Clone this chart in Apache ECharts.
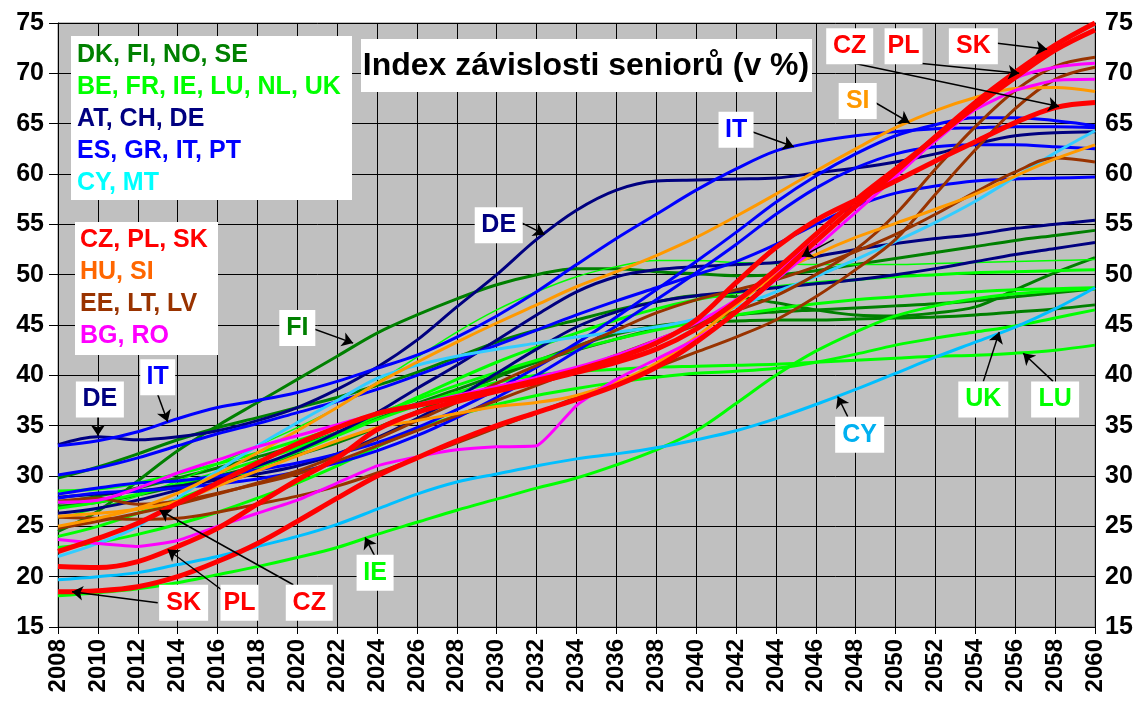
<!DOCTYPE html>
<html>
<head>
<meta charset="utf-8">
<script src="https://cdn.jsdelivr.net/npm/echarts@6/dist/echarts.min.js"></script>
<style>
  html, body { margin: 0; padding: 0; background: #fff; }
  #main { width: 1145px; height: 702px; }
</style>
</head>
<body>
<div id="main"></div>
<script>
// years, every second year 2008..2060
const years = [2008, 2010, 2012, 2014, 2016, 2018, 2020, 2022, 2024, 2026, 2028, 2030, 2032, 2034,
  2036, 2038, 2040, 2042, 2044, 2046, 2048, 2050, 2052, 2054, 2056, 2058, 2060]

// DK, FI, NO, SE
const dk = [29.8, 30.9, 32.2, 33.6, 34.8, 35.8, 36.8, 37.8, 39.0, 40.3, 41.8, 43.3, 44.5, 45.5, 46.5, 47.3, 47.9, 47.8, 47.2, 46.5, 46.0, 45.9, 46.2, 46.8, 48.5, 50.2, 51.7]
const fi = [24.5, 26.5, 29.5, 32.5, 35.0, 37.3, 39.6, 41.9, 44.2, 46.0, 47.6, 49.0, 50.0, 50.6, 50.6, 50.3, 50.1, 49.9, 50.0, 50.4, 51.0, 51.6, 52.2, 52.8, 53.4, 53.9, 54.4]
const no = [27.3, 28.0, 28.8, 29.8, 30.8, 31.9, 33.0, 34.3, 35.7, 37.2, 38.6, 40.0, 41.3, 42.5, 43.6, 44.6, 45.4, 46.0, 46.3, 46.5, 46.7, 46.9, 47.1, 47.4, 47.8, 48.2, 48.6]
const se = [27.0, 27.4, 28.1, 29.0, 30.0, 31.0, 32.1, 33.3, 34.8, 36.4, 38.1, 39.8, 41.4, 42.9, 44.1, 44.9, 45.3, 45.4, 45.5, 45.5, 45.6, 45.7, 45.8, 46.0, 46.3, 46.6, 47.0]
// BE, FR, IE, LU, NL, UK
const be = [26.8, 27.4, 28.2, 29.2, 30.3, 31.5, 32.8, 34.3, 36.0, 37.8, 39.6, 41.3, 42.8, 44.2, 45.5, 46.6, 47.5, 48.2, 48.8, 49.2, 49.5, 49.8, 50.0, 50.2, 50.3, 50.4, 50.5]
const fr = [25.8, 26.8, 28.0, 29.5, 31.2, 33.0, 34.8, 36.8, 39.3, 41.8, 44.3, 46.5, 48.3, 49.8, 50.8, 51.4, 51.4, 51.2, 51.1, 51.0, 51.0, 51.0, 51.1, 51.2, 51.3, 51.4, 51.5]
const ie = [18.1, 18.4, 18.8, 19.4, 20.2, 21.0, 21.9, 22.9, 24.2, 25.4, 26.6, 27.7, 28.8, 29.8, 31.1, 32.6, 34.5, 37.2, 40.0, 42.4, 44.3, 45.9, 46.9, 47.6, 48.1, 48.4, 48.6]
const lu = [24.0, 25.0, 26.3, 27.7, 29.2, 30.8, 32.4, 34.0, 35.6, 37.0, 38.3, 39.3, 40.0, 40.4, 40.6, 40.8, 40.9, 41.0, 41.1, 41.3, 41.5, 41.7, 41.9, 42.0, 42.2, 42.5, 43.0]
const nl = [28.5, 28.7, 29.3, 30.2, 31.2, 32.3, 33.5, 34.8, 36.2, 37.6, 39.0, 40.3, 41.5, 42.6, 43.6, 44.5, 45.3, 46.0, 46.6, 47.1, 47.5, 47.8, 48.1, 48.3, 48.5, 48.6, 48.7]
const uk = [22.9, 23.4, 24.2, 25.2, 26.4, 27.8, 29.3, 31.0, 32.9, 34.6, 36.0, 37.1, 38.0, 38.7, 39.3, 39.8, 40.2, 40.4, 40.7, 41.3, 42.1, 43.0, 43.7, 44.3, 44.9, 45.7, 46.5]
// AT, CH, DE
const at = [26.3, 26.8, 27.6, 28.6, 29.8, 31.0, 32.5, 34.3, 36.3, 38.7, 41.0, 43.5, 46.0, 48.3, 49.8, 50.5, 50.8, 51.0, 51.2, 51.8, 52.5, 53.1, 53.6, 54.0, 54.6, 55.0, 55.4]
const ch = [27.9, 28.2, 28.5, 29.0, 29.6, 30.2, 31.0, 32.2, 33.8, 35.7, 37.8, 40.2, 42.6, 44.8, 46.3, 47.3, 47.9, 48.3, 48.7, 49.1, 49.5, 50.0, 50.6, 51.3, 52.0, 52.6, 53.2]
const de = [33.1, 33.9, 33.6, 33.9, 34.5, 35.5, 36.8, 38.6, 40.8, 43.5, 46.8, 50.0, 53.5, 56.4, 58.4, 59.3, 59.4, 59.5, 59.6, 60.1, 60.6, 61.2, 62.0, 63.0, 63.8, 64.1, 64.2]
// ES, GR, IT, PT
const es = [27.8, 28.3, 28.5, 28.8, 29.2, 29.7, 30.4, 31.3, 32.5, 34.0, 35.8, 37.8, 40.0, 42.4, 44.9, 47.5, 50.2, 53.0, 56.0, 58.6, 60.6, 62.0, 62.7, 62.9, 62.9, 62.7, 62.5]
const gr = [28.2, 28.8, 29.3, 29.5, 30.0, 30.6, 31.3, 32.2, 33.3, 34.8, 36.6, 38.6, 40.8, 43.2, 45.8, 48.5, 51.3, 54.2, 57.2, 59.8, 62.0, 63.8, 64.9, 65.6, 65.6, 65.3, 64.8]
const it = [33.0, 33.5, 34.4, 35.7, 36.8, 37.5, 38.3, 39.4, 40.7, 42.0, 43.8, 45.9, 48.3, 51.0, 53.6, 56.0, 58.4, 60.5, 62.3, 63.2, 63.8, 64.2, 64.5, 64.6, 64.7, 64.7, 64.6]
const pt = [30.1, 30.8, 31.8, 33.0, 34.2, 35.2, 36.3, 37.4, 38.6, 40.0, 41.5, 43.0, 44.5, 46.0, 47.4, 48.7, 50.0, 51.3, 53.0, 55.0, 56.8, 58.1, 58.8, 59.3, 59.5, 59.6, 59.7]
// CY, MT
const cy = [19.7, 20.0, 20.4, 21.2, 22.0, 23.0, 24.0, 25.2, 26.7, 28.2, 29.4, 30.2, 31.0, 31.7, 32.2, 32.8, 33.6, 34.5, 35.7, 37.1, 38.6, 40.2, 41.8, 43.3, 44.8, 46.6, 48.7]
const mt = [22.0, 23.3, 25.0, 27.8, 30.5, 33.0, 35.3, 37.5, 39.7, 41.0, 41.9, 42.6, 43.2, 43.8, 44.3, 44.8, 45.6, 46.8, 48.3, 49.8, 51.5, 53.3, 55.2, 57.3, 59.7, 62.1, 64.3]
// EE, LT, LV
const ee = [27.5, 27.8, 27.2, 27.5, 28.3, 29.2, 30.2, 31.5, 33.0, 34.5, 36.0, 37.5, 39.0, 40.5, 42.0, 43.5, 45.0, 46.4, 47.9, 50.0, 52.5, 56.0, 60.5, 64.7, 68.3, 70.7, 71.6]
const lt = [24.8, 25.5, 26.3, 27.2, 28.2, 29.3, 30.5, 32.0, 33.7, 35.5, 37.3, 39.2, 41.0, 42.8, 44.5, 46.2, 47.5, 48.5, 49.5, 50.8, 52.3, 54.0, 56.0, 58.2, 60.2, 61.6, 61.2]
const lv = [25.9, 25.8, 25.7, 25.8, 26.4, 27.2, 28.0, 29.0, 30.3, 31.8, 33.3, 34.8, 36.3, 37.8, 39.3, 40.8, 42.3, 43.8, 45.5, 47.8, 50.5, 53.5, 58.0, 62.4, 66.5, 69.4, 70.6]
// HU, SI
const hu = [26.0, 26.3, 26.7, 27.5, 29.0, 30.5, 32.0, 33.5, 34.8, 35.5, 36.2, 36.9, 37.3, 38.0, 39.3, 41.2, 43.8, 47.0, 50.0, 52.0, 53.7, 55.1, 56.5, 58.0, 59.8, 61.5, 62.9]
const si = [25.0, 25.8, 26.8, 28.3, 30.2, 32.3, 34.5, 36.8, 39.2, 41.3, 43.3, 45.2, 47.0, 48.8, 50.3, 51.9, 53.7, 55.8, 58.0, 60.3, 62.5, 64.6, 66.3, 67.6, 68.5, 68.6, 68.2]
// BG, RO
const bg = [23.7, 23.3, 23.0, 23.6, 25.0, 26.3, 27.6, 29.3, 31.0, 31.9, 32.6, 32.9, 33.0, 37.0, 39.6, 41.6, 43.6, 46.2, 49.5, 52.7, 56.2, 59.7, 63.4, 66.4, 68.3, 69.3, 69.4]
const ro = [27.4, 27.6, 28.8, 30.3, 31.6, 32.9, 34.0, 35.1, 36.2, 37.1, 38.0, 38.9, 39.8, 40.8, 42.0, 43.5, 45.2, 47.5, 50.3, 53.5, 56.7, 60.0, 63.3, 66.5, 69.5, 70.6, 71.0]
// CZ, PL, SK
const cz = [22.5, 23.8, 25.3, 27.3, 29.3, 31.3, 33.2, 34.8, 36.2, 37.0, 37.8, 38.6, 39.5, 40.5, 41.7, 43.2, 45.5, 49.2, 52.7, 55.4, 57.4, 59.3, 61.3, 63.2, 65.1, 66.6, 67.1]
const pl = [21.0, 20.9, 21.5, 23.0, 24.8, 27.2, 29.6, 31.8, 34.6, 36.3, 37.4, 38.4, 39.3, 40.3, 41.3, 42.6, 44.6, 47.3, 50.5, 54.0, 57.4, 60.5, 63.6, 66.7, 69.6, 72.3, 74.3]
const sk = [18.5, 18.6, 19.0, 20.0, 21.5, 23.3, 25.5, 27.8, 30.0, 31.8, 33.5, 35.0, 36.3, 37.6, 39.0, 40.8, 43.3, 46.3, 49.7, 53.3, 56.8, 60.2, 63.7, 67.1, 70.1, 72.8, 75.0]

// callout labels: [text, colour, year, value]
const callouts = [
  ['DE', '#000080', 2030.1, 54.9], ['IT', '#0000FF', 2042.0, 64.4], ['FI', '#008000', 2020.0, 44.7],
  ['DE', '#000080', 2010.1, 37.6], ['IT', '#0000FF', 2013.0, 39.8],
  ['SK', '#FF0000', 2014.3, 17.4], ['PL', '#FF0000', 2017.1, 17.4], ['CZ', '#FF0000', 2020.6, 17.4],
  ['IE', '#00FF00', 2023.9, 20.4], ['CY', '#00B0F0', 2048.2, 34.1],
  ['UK', '#00FF00', 2054.4, 37.6], ['LU', '#00FF00', 2058.0, 37.6],
  ['CZ', '#FF0000', 2047.7, 72.7], ['PL', '#FF0000', 2050.4, 72.7], ['SK', '#FF0000', 2053.9, 72.7],
  ['SI', '#FF9900', 2048.1, 67.25]
]
// arrows: [fromYear, fromValue, toYear, toValue]
const arrows = [
  [2031.2, 55.2, 2032.4, 54.0], [2042.8, 64.2, 2044.9, 62.7], [2020.7, 44.7, 2022.8, 43.2],
  [2010.0, 36.8, 2010.0, 34.0], [2013.0, 38.1, 2013.5, 35.4],
  [2013.0, 17.4, 2008.7, 18.5], [2016.2, 18.7, 2013.5, 22.7], [2019.8, 19.2, 2013.1, 26.6],
  [2023.9, 22.0, 2023.4, 23.9], [2047.6, 35.9, 2047.1, 37.9],
  [2054.4, 39.4, 2055.2, 44.3], [2057.9, 39.4, 2056.4, 42.2],
  [2047.9, 71.0, 2058.2, 66.7], [2050.7, 71.1, 2056.2, 70.0], [2055.1, 73.0, 2057.6, 72.4],
  [2048.8, 67.3, 2050.7, 65.1], [2046.9, 53.5, 2045.3, 51.8]
]

const groups = [
  { text: 'DK, FI, NO, SE', color: '#008000' },
  { text: 'BE, FR, IE, LU, NL, UK', color: '#00FF00' },
  { text: 'AT, CH, DE', color: '#000080' },
  { text: 'ES, GR, IT, PT', color: '#0000FF' },
  { text: 'CY, MT', color: '#00FFFF' }
]
const groups2 = [
  { text: 'CZ, PL, SK', color: '#FF0000' },
  { text: 'HU, SI', color: '#FF6600' },
  { text: 'EE, LT, LV', color: '#993300' },
  { text: 'BG, RO', color: '#FF00FF' }
]

const lines = [
  ['DK', dk, '#008000', 3], ['FI', fi, '#008000', 3], ['NO', no, '#008000', 3], ['SE', se, '#008000', 3],
  ['BE', be, '#00FF00', 3], ['FR', fr, '#00FF00', 1.5], ['IE', ie, '#00FF00', 3], ['LU', lu, '#00FF00', 3],
  ['NL', nl, '#00FF00', 3], ['UK', uk, '#00FF00', 3],
  ['AT', at, '#000080', 3], ['CH', ch, '#000080', 3], ['DE', de, '#000080', 3],
  ['ES', es, '#0000FF', 3], ['GR', gr, '#0000FF', 3], ['IT', it, '#0000FF', 3], ['PT', pt, '#0000FF', 3],
  ['CY', cy, '#00BFFF', 3], ['MT', mt, '#33CCFF', 3],
  ['EE', ee, '#993300', 3], ['LT', lt, '#993300', 3], ['LV', lv, '#993300', 3],
  ['HU', hu, '#FF9900', 3], ['SI', si, '#FF9900', 3],
  ['BG', bg, '#FF00FF', 3], ['RO', ro, '#FF00FF', 3],
  ['CZ', cz, '#FF0000', 5], ['PL', pl, '#FF0000', 5], ['SK', sk, '#FF0000', 5]
]

// white box width for each callout text
const boxWidth = { DE: 48, IT: 35, FI: 36, SK: 49, PL: 38, CZ: 47, IE: 37, CY: 49, UK: 50, LU: 48, SI: 38 }

const FONT = '"Liberation Sans", Arial, sans-serif'
const dom = document.getElementById('main')
const myChart = echarts.init(dom)

const series = lines.map(([name, vals, color, width]) => ({
  name: name,
  type: 'line',
  data: years.map((y, i) => [y, vals[i]]),
  // BG has a sharp bend around 2032, keep it less rounded
  smooth: name === 'BG' ? 0.15 : 0.35,
  showSymbol: false,
  symbol: 'none',
  lineStyle: { color: color, width: width },
  itemStyle: { color: color },
  silent: true
}))

series.push({
  name: 'notes',
  type: 'line',
  data: [],
  silent: true,
  markLine: {
    silent: true,
    symbol: ['none', 'arrow'],
    symbolSize: 11,
    label: { show: false },
    lineStyle: { color: '#000', width: 1.5, type: 'solid' },
    data: arrows.map(a => [{ coord: [a[0], a[1]] }, { coord: [a[2], a[3]] }])
  },
  markPoint: {
    silent: true,
    data: callouts.map(c => ({
      coord: [c[2], c[3]],
      symbol: 'rect',
      symbolSize: [boxWidth[c[0]], 36],
      itemStyle: { color: '#fff' },
      label: {
        show: true,
        formatter: c[0],
        color: c[1],
        fontSize: 25,
        fontWeight: 'bold',
        fontFamily: FONT
      }
    }))
  }
})

const legendText = (list, x, y0) => list.map((g, i) => ({
  type: 'text',
  x: x,
  y: y0 + i * 32,
  z: 101,
  style: {
    text: g.text,
    fill: g.color,
    font: 'bold 25px ' + FONT,
    textAlign: 'left',
    textVerticalAlign: 'middle'
  }
}))

const option = {
  animation: false,
  backgroundColor: '#fff',
  grid: {
    left: 58, right: 50, top: 23, bottom: 75,
    show: true,
    backgroundColor: '#C0C0C0',
    borderColor: '#808080',
    borderWidth: 1
  },
  xAxis: {
    type: 'value',
    min: 2008,
    max: 2060,
    interval: 2,
    axisLine: { lineStyle: { color: '#000', width: 1 } },
    axisTick: { show: true, length: 7, lineStyle: { color: '#000' } },
    splitLine: { show: true, lineStyle: { color: '#000', width: 1 } },
    axisLabel: {
      rotate: 90,
      margin: 12,
      color: '#000',
      fontSize: 24,
      fontWeight: 'bold',
      fontFamily: FONT,
      formatter: v => String(v)
    }
  },
  yAxis: [
    {
      type: 'value',
      position: 'left',
      min: 15,
      max: 75,
      interval: 5,
      axisLine: { show: true, lineStyle: { color: '#000' } },
      axisTick: { show: true, length: 9, lineStyle: { color: '#000' } },
      splitLine: { show: true, lineStyle: { color: '#000', width: 1 } },
      axisLabel: { margin: 14, color: '#000', fontSize: 25, fontWeight: 'bold', fontFamily: FONT }
    },
    {
      type: 'value',
      position: 'right',
      min: 15,
      max: 75,
      interval: 5,
      axisLine: { show: true, lineStyle: { color: '#000' } },
      axisTick: { show: true, inside: true, length: 8, lineStyle: { color: '#000' } },
      splitLine: { show: false },
      axisLabel: { margin: 10, color: '#000', fontSize: 25, fontWeight: 'bold', fontFamily: FONT }
    }
  ],
  graphic: [
    { type: 'rect', shape: { x: 71, y: 36, width: 281, height: 164 }, style: { fill: '#fff' }, z: 100 },
    { type: 'rect', shape: { x: 75, y: 222, width: 143, height: 133 }, style: { fill: '#fff' }, z: 100 },
    { type: 'rect', shape: { x: 361, y: 39, width: 451, height: 53 }, style: { fill: '#fff' }, z: 100 },
    {
      type: 'text', x: 586, y: 66, z: 101,
      style: {
        text: 'Index závislosti seniorů (v %)',
        fill: '#000',
        font: 'bold 32px ' + FONT,
        textAlign: 'center',
        textVerticalAlign: 'middle'
      }
    },
    ...legendText(groups, 77, 55),
    ...legendText(groups2, 80, 240)
  ],
  series: series
}

myChart.setOption(option)
</script>
</body>
</html>
